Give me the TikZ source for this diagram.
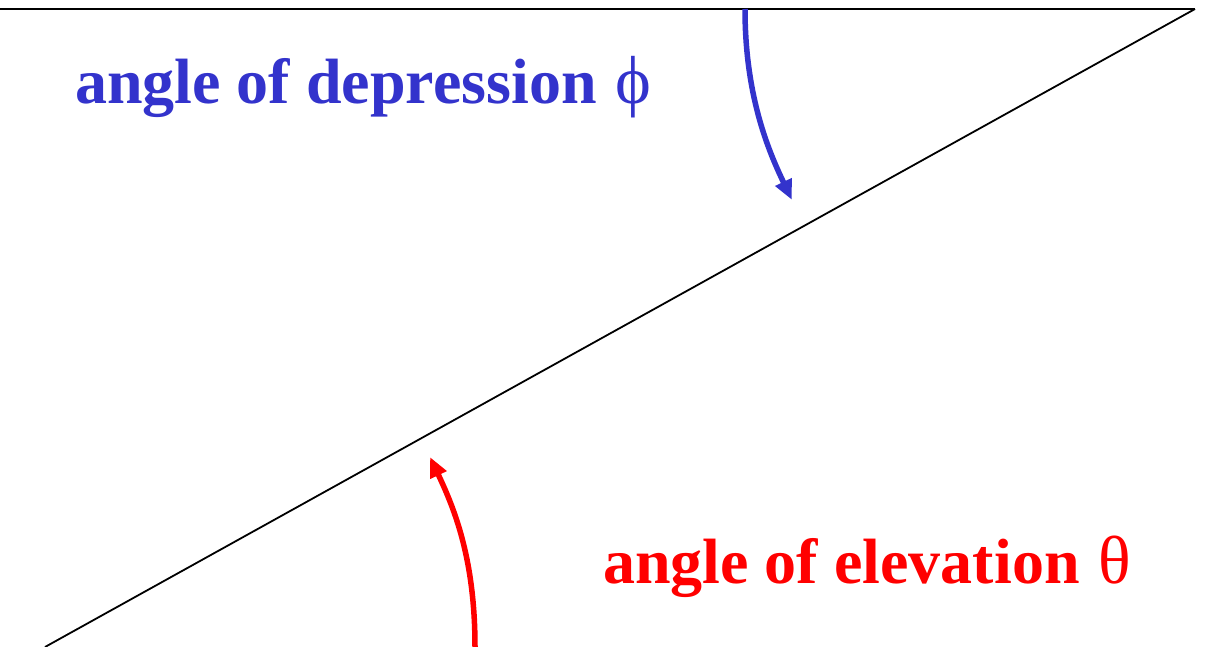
\documentclass[tikz,border=0pt]{standalone}
\usepackage{fontspec}
\setmainfont{Liberation Serif}
\usetikzlibrary{arrows.meta}
\definecolor{depblue}{RGB}{51,51,204}
\definecolor{elered}{RGB}{255,0,0}
\tikzset{
  guide/.style={line width=1.8pt, black},
  anglearrow/.style={line width=5.5pt, -{Triangle[length=20pt,width=17pt]}},
  label/.style={anchor=base west, inner sep=0pt, font=\fontsize{64}{70}\selectfont\bfseries},
}
\begin{document}
\begin{tikzpicture}[x=1pt,y=-1pt]
\useasboundingbox (0,0) rectangle (1227,647);
\coordinate (tl) at (0,9);
\coordinate (tr) at (1195,9);
\coordinate (bl) at (45,647);
\draw[guide] (tl) -- (tr);
\draw[guide] (tr) -- (bl);
\coordinate (bs) at (745,9);
\coordinate (be) at (792,200);
\draw[anglearrow, depblue] (bs) .. controls (745,95) and (768,150) .. (be);
\coordinate (rs) at (475,647);
\coordinate (re) at (430,457);
\draw[anglearrow, elered] (rs) .. controls (475,560) and (455,510) .. (re);
\node[label, text=depblue] (dep) at (75,104) {angle of depression\hspace{0.3em}{\mdseries\fontsize{68}{70}\selectfont ϕ}};
\node[label, text=elered] (ele) at (603,583) {angle of elevation\hspace{0.3em}{\mdseries\fontsize{68}{70}\selectfont θ}};
\end{tikzpicture}
\end{document}
